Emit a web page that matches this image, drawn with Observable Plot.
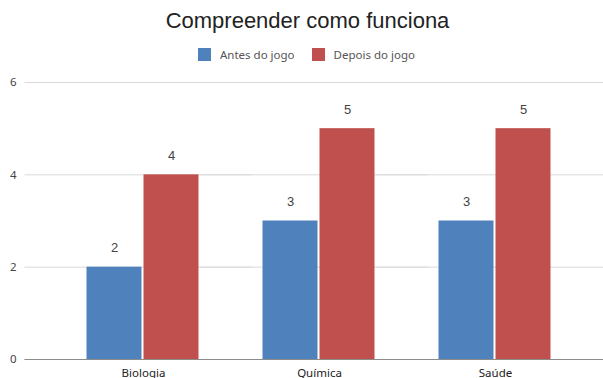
<!DOCTYPE html>
<html>
<head>
<meta charset="utf-8">
<script src="https://cdn.jsdelivr.net/npm/d3@7"></script>
<script src="https://cdn.jsdelivr.net/npm/@observablehq/plot@0.6"></script>
<style>
  body { margin: 0; background: #fff; }
  #wrap { position: relative; width: 603px; height: 378px; overflow: hidden; }
  #chart { position: absolute; left: 0; top: 0; }
  #title {
    position: absolute; left: 6px; top: 8px; width: 603px; text-align: center;
    font: 22px "Liberation Sans", Arial, sans-serif; color: #222;
  }
  #legend {
    position: absolute; left: 198px; top: 47px; display: flex; align-items: center;
    font: 11.5px "Noto Sans", "Open Sans", sans-serif; color: #555;
  }
  .item { display: flex; align-items: center; margin-right: 17px; }
  .swatch { width: 13px; height: 13px; margin-right: 9px; }
</style>
</head>
<body>
<div id="wrap">
  <div id="chart"></div>
  <div id="title">Compreender como funciona</div>
  <div id="legend"></div>
</div>
<script>
// Subjects, the two survey moments, and the scores per moment
const categories = ["Biologia", "Química", "Saúde"];
const series = ["Antes do jogo", "Depois do jogo"];
const antes = [2, 3, 3];
const depois = [4, 5, 5];
const yTicks = [0, 2, 4, 6];
const colors = ["#4f81bd", "#c0504d"];

const rows = categories.flatMap((c, i) => [
  {categoria: c, serie: series[0], valor: antes[i]},
  {categoria: c, serie: series[1], valor: depois[i]}
]);

// Legend
const legend = document.getElementById("legend");
series.forEach((s, i) => {
  const item = document.createElement("div");
  item.className = "item";
  const sw = document.createElement("div");
  sw.className = "swatch";
  sw.style.background = colors[i];
  const label = document.createElement("span");
  label.textContent = s;
  item.append(sw, label);
  legend.append(item);
});

const chart = Plot.plot({
  width: 603,
  height: 378,
  marginTop: 82,
  marginBottom: 19,
  marginLeft: 54.5,
  marginRight: 20.5,
  style: {fontFamily: "'Noto Sans', 'Open Sans', sans-serif", fontSize: "11px", color: "#444", background: "#fff"},
  fx: {domain: categories, padding: 0, label: null},
  x: {domain: series, paddingInner: 0.035, paddingOuter: 0.56, axis: null},
  y: {domain: [0, 6], label: null},
  color: {domain: series, range: colors},
  marks: [
    Plot.gridY(yTicks, {stroke: "#d9d9d9", strokeOpacity: 1, insetLeft: -30.5, insetRight: -20.5}),
    Plot.barY(rows, {fx: "categoria", x: "serie", y: "valor", fill: "serie"}),
    Plot.ruleY([0], {stroke: "#8c8c8c", strokeWidth: 1.2, insetLeft: -30.5, insetRight: -20.5}),
    Plot.text(rows, {
      fx: "categoria", x: "serie", y: "valor", text: d => String(d.valor),
      dy: -19, fontSize: 13, fill: "#444", fontFamily: "'Liberation Sans', Arial, sans-serif"
    }),
    Plot.axisY(yTicks, {tickSize: 0, tickPadding: 39, label: null, fill: "#444", fontSize: 11.5}),
    Plot.axisFx({anchor: "bottom", tickSize: 0, tickPadding: 9, label: null, fill: "#222", fontSize: 11.5})
  ]
});
document.getElementById("chart").append(chart);
</script>
</body>
</html>
